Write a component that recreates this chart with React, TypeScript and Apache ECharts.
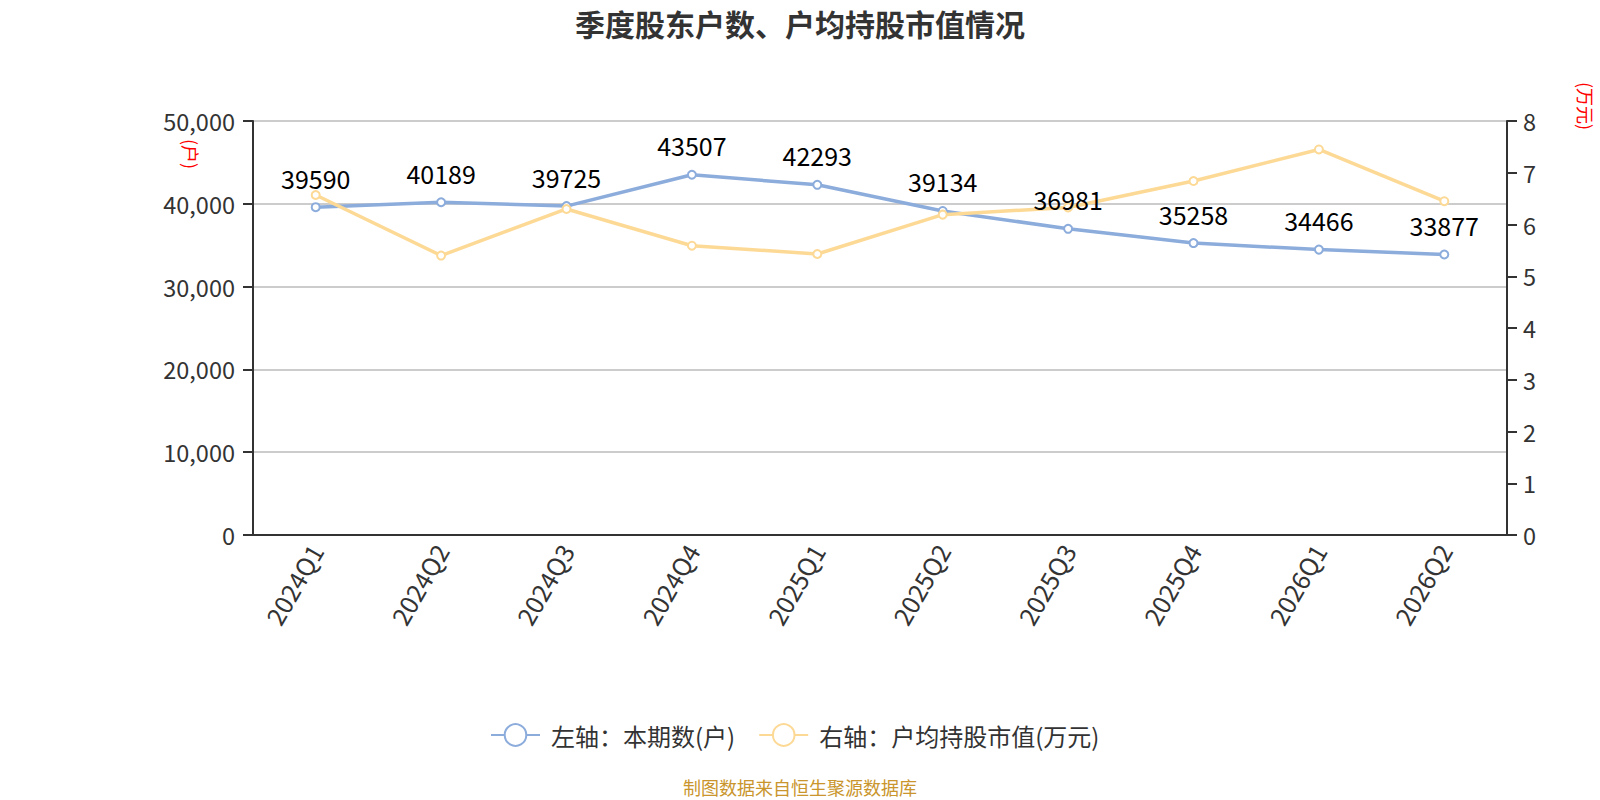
import React, { useEffect, useRef } from "react";
import * as echarts from "echarts";

const categories = ["2024Q1", "2024Q2", "2024Q3", "2024Q4", "2025Q1", "2025Q2", "2025Q3", "2025Q4", "2026Q1", "2026Q2"];
const holders = [39590, 40189, 39725, 43507, 42293, 39134, 36981, 35258, 34466, 33877];
const avgValue = [6.57, 5.40, 6.30, 5.59, 5.43, 6.19, 6.33, 6.84, 7.45, 6.45];
const leftTicks = { min: 0, max: 50000, interval: 10000 };
const rightTicks = { min: 0, max: 8, interval: 1 };

const FONT = "'Noto Sans CJK SC', 'Noto Sans', sans-serif";

export default function App() {
  const ref = useRef<HTMLDivElement>(null);
  useEffect(() => {
    document.body.style.margin = "0";
    const chart = echarts.init(ref.current!, undefined, { renderer: "svg" });
    chart.setOption({
      animation: false,
      textStyle: { fontFamily: FONT },
      title: {
        text: "季度股东户数、户均持股市值情况",
        left: "center",
        top: 3,
        textStyle: { fontSize: 30, fontWeight: "bold", color: "#333", fontFamily: FONT },
      },
      legend: {
        top: 718,
        left: 485,
        itemWidth: 49,
        itemHeight: 27,
        itemGap: 23,
        textStyle: { fontSize: 24, color: "#333", fontFamily: FONT, padding: [0, 0, 0, 6] },
        data: ["左轴：本期数(户)", "右轴：户均持股市值(万元)"],
      },
      grid: { left: 253, right: 93, top: 121, bottom: 265 },
      xAxis: {
        type: "category",
        data: categories,
        boundaryGap: true,
        axisLine: { lineStyle: { color: "#333", width: 2 } },
        axisTick: { lineStyle: { color: "#333", width: 2 }, length: 10 },
        axisLabel: { rotate: 60, fontSize: 25, color: "#333", margin: 11, fontFamily: FONT },
      },
      yAxis: [
        {
          type: "value",
          ...leftTicks,
          axisLine: { show: true, lineStyle: { color: "#333", width: 2 } },
          axisTick: { show: true, lineStyle: { color: "#333", width: 2 }, length: 10 },
          axisLabel: {
            fontSize: 23.5,
            color: "#333",
            margin: 18,
            fontFamily: FONT,
            formatter: (v: number) => v.toLocaleString("en-US"),
          },
          splitLine: { lineStyle: { color: "#ccc", width: 2 } },
        },
        {
          type: "value",
          ...rightTicks,
          axisLine: { show: true, lineStyle: { color: "#333", width: 2 } },
          axisTick: { show: true, lineStyle: { color: "#333", width: 2 }, length: 10 },
          axisLabel: { fontSize: 23.5, color: "#333", margin: 16, fontFamily: FONT },
          splitLine: { show: false },
        },
      ],
      graphic: [
        {
          type: "text",
          x: 191,
          y: 154,
          rotation: -Math.PI / 2,
          style: {
            text: "(户)",
            fill: "#ff0000",
            font: `18px ${FONT}`,
            align: "center",
            verticalAlign: "middle",
          },
        },
        {
          type: "text",
          x: 1586,
          y: 106,
          rotation: -Math.PI / 2,
          style: {
            text: "(万元)",
            fill: "#ff0000",
            font: `18px ${FONT}`,
            align: "center",
            verticalAlign: "middle",
          },
        },
        {
          type: "text",
          x: 800,
          y: 787,
          style: {
            text: "制图数据来自恒生聚源数据库",
            fill: "#c9952c",
            font: `18px ${FONT}`,
            align: "center",
            verticalAlign: "middle",
          },
        },
      ],
      series: [
        {
          name: "左轴：本期数(户)",
          type: "line",
          yAxisIndex: 0,
          data: holders,
          symbol: "emptyCircle",
          symbolSize: 8,
          lineStyle: { width: 3.5, color: "#8cacdc" },
          itemStyle: { color: "#8cacdc", borderWidth: 2 },
          label: {
            show: true,
            position: "top",
            distance: 12,
            fontSize: 25,
            color: "#000",
            fontFamily: FONT,
          },
        },
        {
          name: "右轴：户均持股市值(万元)",
          type: "line",
          yAxisIndex: 1,
          data: avgValue,
          symbol: "emptyCircle",
          symbolSize: 8,
          lineStyle: { width: 3.5, color: "#fdd996" },
          itemStyle: { color: "#fdd996", borderWidth: 2 },
        },
      ],
    });
    return () => chart.dispose();
  }, []);
  return <div ref={ref} style={{ width: 1600, height: 800 }} />;
}
